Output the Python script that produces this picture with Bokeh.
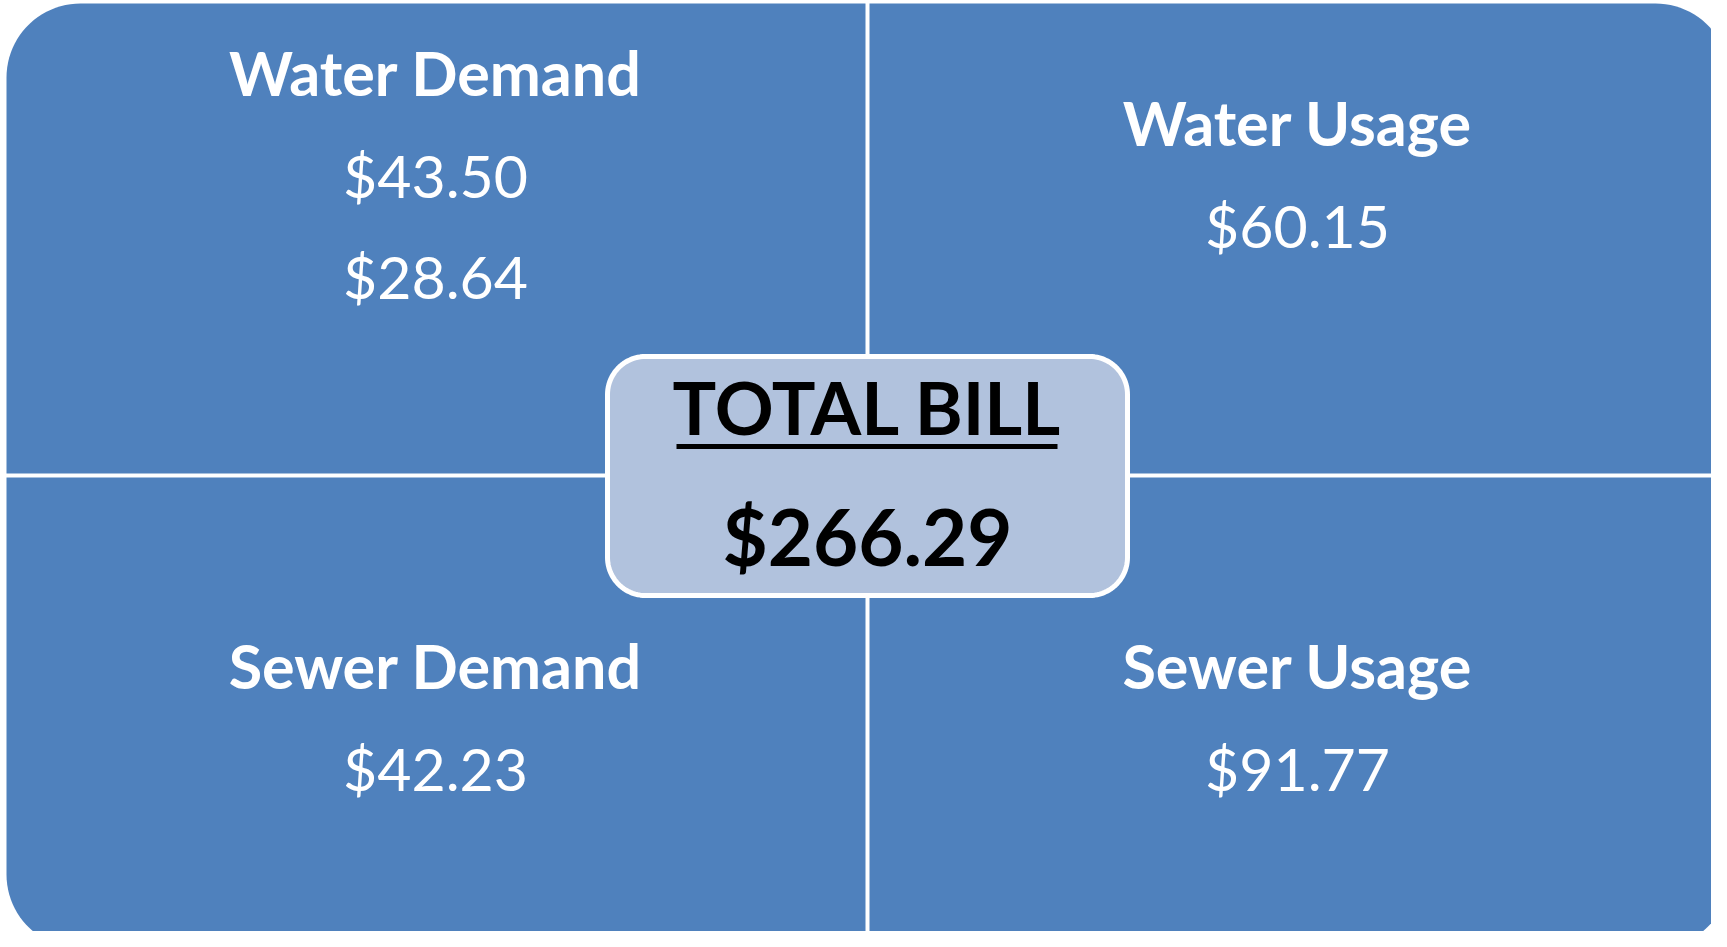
import numpy as np
from bokeh.plotting import figure
from bokeh.models import Range1d, ColumnDataSource
from bokeh.core.properties import value
from bokeh.embed import file_html
from bokeh.resources import INLINE

# ---- data ----
categories = ["Water Demand", "Water Usage", "Sewer Demand", "Sewer Usage"]
amounts = [["$43.50", "$28.64"], ["$60.15"], ["$42.23"], ["$91.77"]]
total_label = "TOTAL BILL"
total_amount = "$266.29"

# ---- layout (pixel space of the screenshot) ----
PW, PH = 1711, 931
BLUE = "#4F81BD"
LIGHT = "#B1C2DD"
FONT = "Lato"

p = figure(width=PW, height=PH, output_backend="svg",
           toolbar_location=None, x_range=Range1d(0, PW),
           y_range=Range1d(PH, 0), min_border=0)
p.axis.visible = False
p.grid.visible = False
p.outline_line_color = None
p.background_fill_color = "white"
p.border_fill_color = "white"


def rounded_rect(x0, y0, x1, y1, r, n=24):
    xs, ys = [], []
    corners = [(x1 - r, y0 + r, -90, 0), (x1 - r, y1 - r, 0, 90),
               (x0 + r, y1 - r, 90, 180), (x0 + r, y0 + r, 180, 270)]
    for cx, cy, a0, a1 in corners:
        t = np.radians(np.linspace(a0, a1, n))
        xs.extend(cx + r * np.cos(t))
        ys.extend(cy + r * np.sin(t))
    return xs, ys


# outer matrix shape
ox, oy = rounded_rect(6, 3, 1729, 948, 74)
p.patch(ox, oy, fill_color=BLUE, line_color=None)

cx_div, cy_div = 867, 475
p.segment(x0=[cx_div, 0], y0=[0, cy_div], x1=[cx_div, 1800], y1=[1000, cy_div],
          line_color="white", line_width=4)

# center box
bx, by = rounded_rect(cx_div - 260, cy_div - 119, cx_div + 260, cy_div + 120, 38)
p.patch(bx, by, fill_color=LIGHT, line_color="white", line_width=5)

# quadrant texts (baseline offsets compensate renderer's alphabetic baseline)
qx = [435, 1297, 435, 1297]
title_y = [95, 145, 688, 688]
amt_y0 = [197, 247, 790, 790]
amt_step = 101
T_OFF, A_OFF = 23, 22

tsrc = ColumnDataSource(dict(x=qx, y=[v - T_OFF for v in title_y], t=categories))
p.text(x="x", y="y", text="t", source=tsrc, text_color="white",
       text_font=value(FONT), text_font_style="bold", text_font_size="61px",
       text_align="center", text_baseline="alphabetic")

ax, ay, at = [], [], []
for i, vals in enumerate(amounts):
    for j, v in enumerate(vals):
        ax.append(qx[i]); ay.append(amt_y0[i] + j * amt_step - A_OFF); at.append(v)
asrc = ColumnDataSource(dict(x=ax, y=ay, t=at))
p.text(x="x", y="y", text="t", source=asrc, text_color="white",
       text_font=value(FONT), text_font_size="59px",
       text_align="center", text_baseline="alphabetic")

# total
p.text(x=[cx_div], y=[434 - 28], text=[total_label], text_color="black",
       text_font=value(FONT), text_font_style="bold", text_font_size="73px",
       text_align="center", text_baseline="alphabetic")
p.segment(x0=[cx_div - 191], y0=[446], x1=[cx_div + 190], y1=[446],
          line_color="black", line_width=5)
p.text(x=[cx_div], y=[563 - 28], text=[total_amount], text_color="black",
       text_font=value(FONT), text_font_style="bold", text_font_size="78px",
       text_align="center", text_baseline="alphabetic")

open("out.html", "w").write(file_html(p, INLINE))
